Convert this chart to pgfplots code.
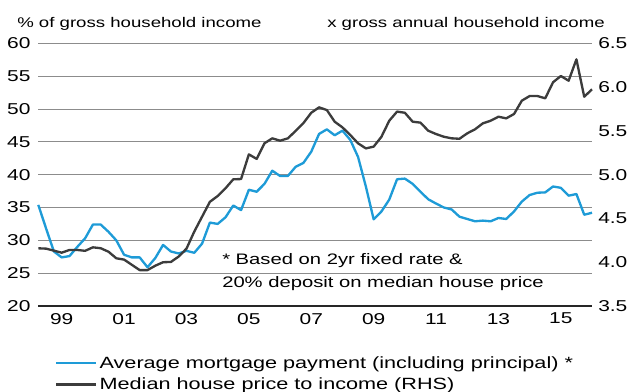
\documentclass[border=0pt]{standalone}
\usepackage{pgfplots}
\pgfplotsset{compat=1.18}
\usepackage{pgfplotstable}
\usepackage{fontspec}
\setmainfont{Liberation Sans}[FakeStretch=1.33]

\definecolor{cblue}{HTML}{1E9BD7}
\definecolor{cgray}{HTML}{3C3C3C}
\definecolor{cgrid}{HTML}{8C8C8C}

% k = quarter index (k=3 -> 1999, k=67 -> 2015); blue = % of income (LHS); gray = x income (RHS)
\pgfplotstableread{
k blue gray
0 35.4 4.159
1 31.8 4.155
2 28.3 4.132
3 27.4 4.109
4 27.6 4.140
5 29.0 4.140
6 30.3 4.130
7 32.4 4.170
8 32.4 4.160
9 31.3 4.120
10 30.0 4.045
11 27.8 4.030
12 27.4 3.970
13 27.4 3.910
14 25.9 3.910
15 27.3 3.960
16 29.3 4.000
17 28.3 4.003
18 28.0 4.065
19 28.4 4.155
20 28.1 4.350
21 29.5 4.520
22 32.7 4.690
23 32.5 4.756
24 33.5 4.844
25 35.3 4.947
26 34.6 4.950
27 37.7 5.232
28 37.4 5.180
29 38.6 5.358
30 40.6 5.415
31 39.8 5.388
32 39.8 5.415
33 41.2 5.500
34 41.8 5.590
35 43.5 5.707
36 46.2 5.769
37 46.9 5.738
38 46.0 5.605
39 46.7 5.540
40 45.3 5.453
41 42.7 5.358
42 38.2 5.300
43 33.2 5.320
44 34.4 5.433
45 36.2 5.616
46 39.3 5.720
47 39.4 5.707
48 38.6 5.605
49 37.4 5.594
50 36.25 5.502
51 35.6 5.464
52 35.0 5.433
53 34.7 5.415
54 33.6 5.410
55 33.25 5.472
56 32.9 5.518
57 33.0 5.586
58 32.9 5.616
59 33.4 5.662
60 33.25 5.643
61 34.4 5.693
62 35.9 5.845
63 36.9 5.898
64 37.25 5.898
65 37.3 5.872
66 38.2 6.055
67 38.0 6.127
68 36.8 6.073
69 37.05 6.317
70 33.9 5.890
71 34.2 5.975
}\data

\begin{document}
\begin{tikzpicture}
\useasboundingbox (0,0) rectangle (476.25pt,294pt);
\begin{axis}[
  at={(28.725pt,64.5pt)}, anchor=south west,
  scale only axis, width=415.3pt, height=197pt,
  xmin=0, xmax=71, ymin=20, ymax=60,
  ytick={20,25,...,60},
  xtick={3,11,19,27,35,43,51,59,67},
  xticklabels={99,01,03,05,07,09,11,13,15},
  axis line style={draw=none},
  major tick length=0pt,
  ymajorgrids, grid style={cgrid, line width=0.6pt},
  extra y ticks={20}, extra y tick labels={},
  extra y tick style={grid style={black!85, line width=1.1pt}},
  tick label style={font=\fontsize{11.8}{13}\selectfont},
  /pgf/number format/assume math mode=true,
  yticklabel style={anchor=east, inner sep=0pt, xshift=-5.7pt},
  xticklabel style={anchor=center, inner sep=0pt, yshift=-9.5pt},
  clip=false,
]
\addplot[cblue, line width=1.75pt, line join=round] table[x=k,y=blue]{\data};
\end{axis}
\begin{axis}[
  at={(28.725pt,64.5pt)}, anchor=south west,
  scale only axis, width=415.3pt, height=197pt,
  xmin=0, xmax=71, ymin=3.5, ymax=6.5,
  ytick={3.5,4,...,6.5},
  hide x axis,
  axis line style={draw=none},
  major tick length=0pt,
  yticklabel pos=right,
  tick label style={font=\fontsize{11.8}{13}\selectfont},
  /pgf/number format/assume math mode=true,
  yticklabel style={anchor=west, inner sep=0pt, xshift=4.5pt,
    /pgf/number format/.cd, fixed, fixed zerofill, precision=1},
  legend style={at={(0.0302,-0.183)}, anchor=north west, draw=none, fill=none,
    font=\fontsize{12.2}{14}\selectfont, inner sep=0pt, row sep=2.6pt,
    nodes={inner sep=1.5pt}},
  legend cell align=left,
  legend image code/.code={\draw[#1] (0pt,0pt) -- (30pt,0pt);},
  clip=false,
]
\addlegendimage{cblue, line width=1.75pt}
\addlegendentry{Average mortgage payment (including principal) *}
\addplot[cgray, line width=1.75pt, line join=round] table[x=k,y=gray]{\data};
\addlegendentry{Median house price to income (RHS)}
\end{axis}
\node[anchor=base west, inner sep=0pt, font=\fontsize{10.5}{12}\selectfont] at (12.75pt,273pt) {\% of gross household income};
\node[anchor=base west, inner sep=0pt, font=\fontsize{10.5}{12}\selectfont] at (245.25pt,273pt) {x gross annual household income};
\node[anchor=base west, inner sep=0pt, font=\fontsize{11.4}{13}\selectfont] at (166.5pt,95.25pt) {* Based on 2yr fixed rate \&};
\node[anchor=base west, inner sep=0pt, font=\fontsize{11.4}{13}\selectfont] at (166.5pt,78pt) {20\% deposit on median house price};
\end{tikzpicture}
\end{document}
